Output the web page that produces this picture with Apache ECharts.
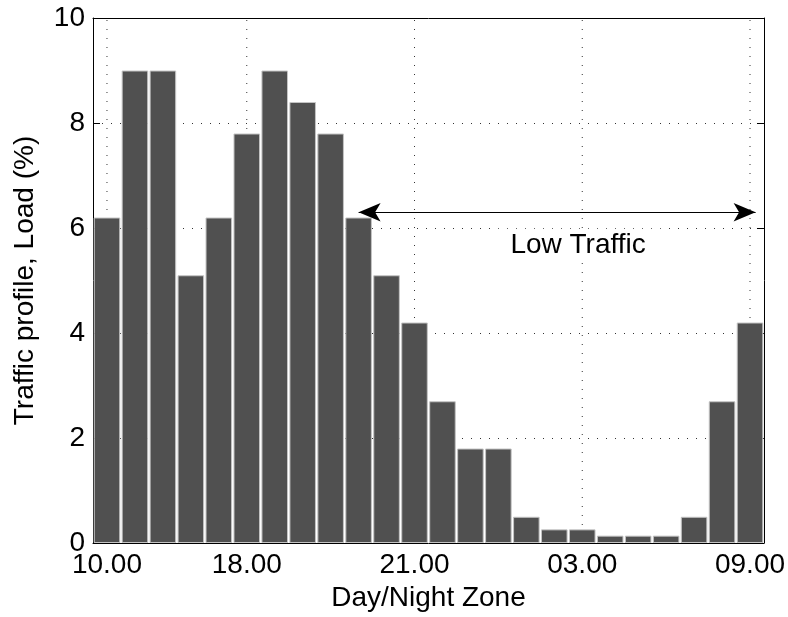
<!DOCTYPE html>
<html>
<head>
<meta charset="utf-8">
<script src="https://cdn.jsdelivr.net/npm/echarts@6/dist/echarts.min.js"></script>
<style>
  html, body { margin: 0; padding: 0; background: #fff; }
  #chart { width: 788px; height: 617px; }
</style>
</head>
<body>
<div id="chart"></div>
<script>
// hourly bins of the day/night profile
const bins = ['1', '2', '3', '4', '5', '6', '7', '8', '9', '10', '11', '12',
  '13', '14', '15', '16', '17', '18', '19', '20', '21', '22', '23', '24']
const loadValues = [6.2, 9.0, 9.0, 5.1, 6.2, 7.8, 9.0, 8.4, 7.8, 6.2, 5.1, 4.2,
  2.7, 1.8, 1.8, 0.5, 0.26, 0.26, 0.14, 0.14, 0.14, 0.5, 2.7, 4.2]
// labelled ticks on the x axis (bin index -> text)
const tickIndex = [0, 5, 11, 17, 23]
const tickLabels = ['10.00', '18.00', '21.00', '03.00', '09.00']
const yMin = 0
const yMax = 10
// low traffic annotation
const lowFrom = 9
const lowTo = 23.2
const lowLevel = 6.3
const lowText = 'Low Traffic'
const lowTextAt = [16.85, 5.68]

const font = 'Liberation Sans, Arial, Helvetica, sans-serif'
const fs = 28

const isTick = (i) => tickIndex.indexOf(i) >= 0
const tickText = (v, i) => {
  let k = tickIndex.indexOf(i)
  return k >= 0 ? tickLabels[k] : ''
}

const chart = echarts.init(document.getElementById('chart'))

const dotted = { type: [1, 8], color: '#333', width: 1 }

// vertical dotted grid lines at the labelled ticks, drawn behind the bars
let gridSeries = tickIndex.map(i => ({
  type: 'line',
  xAxisIndex: 2,
  yAxisIndex: 0,
  z: 1,
  silent: true,
  symbol: 'none',
  lineStyle: dotted,
  data: [[i, yMin], [i, yMax]]
}))

let option = {
  animation: false,
  textStyle: { fontFamily: font },
  grid: { left: 93, right: 22, top: 18, bottom: 74, containLabel: false },
  xAxis: [{
    type: 'category',
    data: bins,
    position: 'bottom',
    name: 'Day/Night Zone',
    nameLocation: 'middle',
    nameGap: 37,
    nameTextStyle: { fontSize: fs, color: '#000', fontFamily: font },
    axisLine: { onZero: false, lineStyle: { color: '#000', width: 1 } },
    axisTick: { alignWithLabel: true, inside: true, length: 7, interval: isTick, lineStyle: { color: '#000' } },
    axisLabel: { interval: isTick, formatter: tickText, fontSize: fs, color: '#000', margin: 8, fontFamily: font },
    splitLine: { show: false }
  }, {
    type: 'category',
    data: bins,
    position: 'top',
    axisLine: { onZero: false, lineStyle: { color: '#000', width: 1 } },
    axisTick: { alignWithLabel: true, inside: true, length: 7, interval: isTick, lineStyle: { color: '#000' } },
    axisLabel: { show: false },
    splitLine: { show: false }
  }, {
    // helper scale for the annotation and grid lines
    type: 'value',
    min: -0.5,
    max: 23.5,
    show: false
  }],
  yAxis: [{
    type: 'value',
    min: yMin,
    max: yMax,
    interval: 2,
    position: 'left',
    name: 'Traffic profile, Load (%)',
    nameLocation: 'middle',
    nameGap: 54,
    nameTextStyle: { fontSize: fs, color: '#000', fontFamily: font },
    axisLine: { show: true, onZero: false, lineStyle: { color: '#000', width: 1 } },
    axisTick: { show: true, inside: true, length: 7, lineStyle: { color: '#000' } },
    axisLabel: { fontSize: fs, color: '#000', margin: 8, fontFamily: font },
    splitLine: { show: true, lineStyle: dotted }
  }, {
    type: 'value',
    min: yMin,
    max: yMax,
    interval: 2,
    position: 'right',
    axisLine: { show: true, onZero: false, lineStyle: { color: '#000', width: 1 } },
    axisTick: { show: true, inside: true, length: 7, lineStyle: { color: '#000' } },
    axisLabel: { show: false },
    splitLine: { show: false }
  }],
  series: gridSeries.concat([{
    type: 'bar',
    data: loadValues,
    xAxisIndex: 0,
    yAxisIndex: 0,
    z: 2,
    barCategoryGap: '5%',
    itemStyle: { color: '#505050', borderColor: '#c4c4c4', borderWidth: 1 }
  }, {
    type: 'line',
    data: [],
    xAxisIndex: 2,
    yAxisIndex: 0,
    markLine: {
      silent: true,
      symbol: ['arrow', 'arrow'],
      symbolSize: [14, 22],
      label: { show: false },
      lineStyle: { type: 'solid', color: '#000', width: 1 },
      data: [[{ coord: [lowFrom, lowLevel] }, { coord: [lowTo, lowLevel] }]]
    },
    markPoint: {
      silent: true,
      symbol: 'rect',
      symbolSize: 0,
      label: {
        show: true,
        formatter: lowText,
        color: '#000',
        fontSize: fs,
        fontFamily: font,
        backgroundColor: '#fff',
        padding: [2, 16]
      },
      data: [{ coord: lowTextAt }]
    }
  }])
}

chart.setOption(option)
</script>
</body>
</html>
